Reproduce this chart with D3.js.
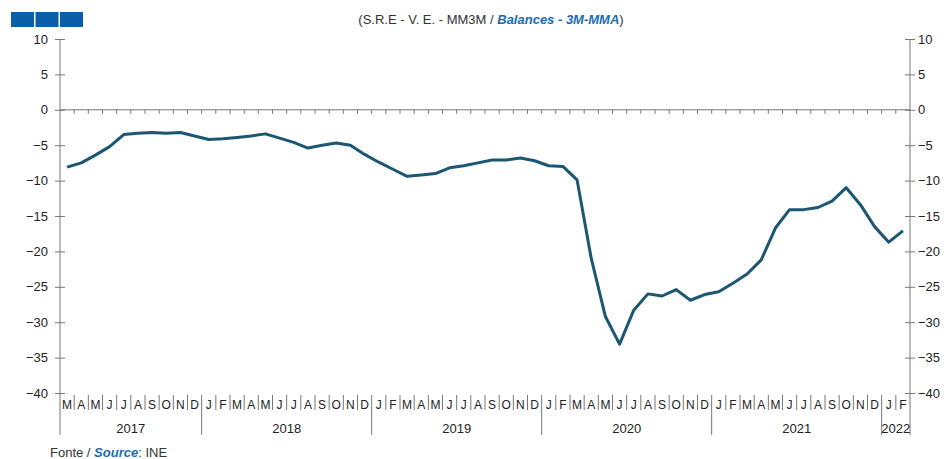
<!DOCTYPE html>
<html>
<head>
<meta charset="utf-8">
<script src="https://cdn.jsdelivr.net/npm/d3@7"></script>
<style>
  body { margin: 0; background: #fff; }
  svg { display: block; font-family: "Liberation Sans", Arial, sans-serif; }
  .axis text { fill: #222; font-size: 13px; }
  .axis line, .axis path { stroke: #777; }
</style>
</head>
<body>
<script>
// month range of the series (Mar 2017 - Feb 2022)
var firstMonth = new Date(2017, 2, 1),
    endMonth = new Date(2022, 2, 1);
var years = [2017, 2018, 2019, 2020, 2021, 2022];
var yTicks = [10, 5, 0, -5, -10, -15, -20, -25, -30, -35, -40];

// balances, 3 month moving average
var balance = [
  -8.1, -7.5, -6.4, -5.2, -3.5, -3.3, -3.2, -3.3, -3.2, -3.7,   // 2017
  -4.2, -4.1, -3.9, -3.7, -3.4, -4.0, -4.6, -5.4, -5.0, -4.7, -5.0, -6.3, // 2018
  -7.4, -8.4, -9.4, -9.2, -9.0, -8.2, -7.9, -7.5, -7.1, -7.1, -6.8, -7.2, // 2019
  -7.9, -8.0, -9.9, -21.0, -29.2, -33.1, -28.3, -26.0, -26.3, -25.4, -26.9, -26.1, // 2020
  -25.7, -24.5, -23.2, -21.2, -16.7, -14.1, -14.1, -13.8, -12.9, -11.0, -13.4, -16.5, // 2021
  -18.7, -17.1 // 2022
];

var width = 947, height = 459;
var margin = {top: 39, left: 60, right: 37, bottom: 66};
var plotBottom = height - margin.bottom;   // y of -40

var months = d3.timeMonth.range(firstMonth, endMonth);
var data = months.map(function(m, i) { return {month: m, value: balance[i]}; });

var svg = d3.select("body").append("svg")
    .attr("width", width)
    .attr("height", height);

var x = d3.scaleBand()
    .domain(months)
    .range([margin.left, width - margin.right])
    .padding(0);

var y = d3.scaleLinear()
    .domain([-40, 10])
    .range([plotBottom, margin.top]);

// blue squares top left
svg.selectAll(".sq")
  .data([0, 1, 2])
  .enter().append("rect")
    .attr("class", "sq")
    .attr("x", function(d) { return 11 + d * 24.5; })
    .attr("y", 12)
    .attr("width", 23)
    .attr("height", 15)
    .style("fill", "#0b5ea8");

// title
var title = svg.append("text")
    .attr("x", 491)
    .attr("y", 24)
    .attr("text-anchor", "middle")
    .style("font-size", "13px")
    .style("fill", "#333");
title.append("tspan").text("(S.R.E - V. E. - MM3M / ");
title.append("tspan").text("Balances - 3M-MMA")
    .style("fill", "#1a6db3").style("font-weight", "bold").style("font-style", "italic");
title.append("tspan").text(")");

// y axes, ticks crossing the axis line
var axisBottomY = 435;
function yAxisSide(gen, xpos, anchor, dx) {
  var g = svg.append("g")
      .attr("class", "axis")
      .attr("transform", "translate(" + xpos + ",0)")
      .call(gen.tickValues(yTicks).tickSize(5).tickSizeOuter(0));
  g.select(".domain").remove();
  g.selectAll(".tick line").attr("x1", -5).attr("x2", 5);
  g.selectAll(".tick text").attr("x", dx).attr("text-anchor", anchor);
  g.append("line")
      .attr("y1", y(10)).attr("y2", axisBottomY)
      .style("stroke", "#777");
  return g;
}
yAxisSide(d3.axisLeft(y), margin.left, "end", -12);
yAxisSide(d3.axisRight(y), width - margin.right, "start", 8);

// zero line with month ticks
svg.append("line")
    .attr("x1", margin.left).attr("x2", width - margin.right)
    .attr("y1", y(0)).attr("y2", y(0))
    .style("stroke", "#777");
svg.selectAll(".zt")
  .data(months.slice(1))
  .enter().append("line")
    .attr("class", "zt")
    .attr("x1", function(d) { return x(d); })
    .attr("x2", function(d) { return x(d); })
    .attr("y1", y(0)).attr("y2", y(0) + 4)
    .style("stroke", "#777");

// month separators, longer at january
svg.selectAll(".msep")
  .data(months.slice(1))
  .enter().append("line")
    .attr("class", "msep")
    .attr("x1", function(d) { return x(d); })
    .attr("x2", function(d) { return x(d); })
    .attr("y1", plotBottom + 2)
    .attr("y2", function(d) { return d.getMonth() == 0 ? axisBottomY : plotBottom + 17; })
    .style("stroke", "#777");

// month letters
svg.selectAll(".mlab")
  .data(months)
  .enter().append("text")
    .attr("class", "mlab")
    .attr("x", function(d) { return x(d) + x.bandwidth() / 2; })
    .attr("y", plotBottom + 16)
    .attr("text-anchor", "middle")
    .style("font-size", "12px")
    .style("fill", "#222")
    .text(function(d) { return d3.timeFormat("%b")(d).charAt(0); });

// year labels
svg.selectAll(".ylab")
  .data(years)
  .enter().append("text")
    .attr("class", "ylab")
    .attr("x", function(yr) {
      var ms = months.filter(function(m) { return m.getFullYear() == yr; });
      return (x(ms[0]) + x(ms[ms.length - 1]) + x.bandwidth()) / 2;
    })
    .attr("y", 433)
    .attr("text-anchor", "middle")
    .style("font-size", "13px")
    .style("fill", "#222")
    .text(function(d) { return d; });

// the line
var line = d3.line()
    .x(function(d) { return x(d.month) + x.bandwidth() / 2; })
    .y(function(d) { return y(d.value); });

svg.append("path")
    .datum(data)
    .attr("d", line)
    .style("fill", "none")
    .style("stroke", "#1b5673")
    .style("stroke-width", 3)
    .style("stroke-linejoin", "round");

// source
var src = svg.append("text")
    .attr("x", 50)
    .attr("y", 457)
    .style("font-size", "13px")
    .style("fill", "#333");
src.append("tspan").text("Fonte / ");
src.append("tspan").text("Source")
    .style("fill", "#1a6db3").style("font-weight", "bold").style("font-style", "italic");
src.append("tspan").text(": INE");
</script>
</body>
</html>
